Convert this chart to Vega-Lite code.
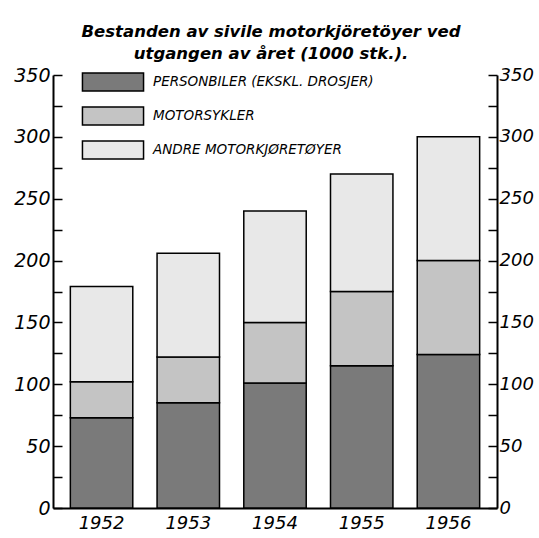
{
  "$schema": "https://vega.github.io/schema/vega-lite/v6.json",
  "width": 444,
  "height": 433,
  "autosize": "none",
  "padding": {"left": 53, "top": 75, "right": 42, "bottom": 30},
  "background": "white",
  "title": {
    "text": ["Bestanden av sivile motorkjöretöyer ved", "utgangen av året (1000 stk.)."],
    "font": "DejaVu Sans",
    "fontStyle": "italic",
    "fontWeight": "bold",
    "fontSize": 16.5,
    "lineHeight": 22,
    "color": "black",
    "anchor": "middle",
    "offset": 4,
    "dx": -4
  },
  "data": {
    "values": [
      {"year": "1952", "type": "PERSONBILER (EKSKL. DROSJER)", "ord": 1, "value": 73},
      {"year": "1952", "type": "MOTORSYKLER", "ord": 2, "value": 29},
      {"year": "1952", "type": "ANDRE MOTORKJØRETØYER", "ord": 3, "value": 77},
      {"year": "1953", "type": "PERSONBILER (EKSKL. DROSJER)", "ord": 1, "value": 85},
      {"year": "1953", "type": "MOTORSYKLER", "ord": 2, "value": 37},
      {"year": "1953", "type": "ANDRE MOTORKJØRETØYER", "ord": 3, "value": 84},
      {"year": "1954", "type": "PERSONBILER (EKSKL. DROSJER)", "ord": 1, "value": 101},
      {"year": "1954", "type": "MOTORSYKLER", "ord": 2, "value": 49},
      {"year": "1954", "type": "ANDRE MOTORKJØRETØYER", "ord": 3, "value": 90},
      {"year": "1955", "type": "PERSONBILER (EKSKL. DROSJER)", "ord": 1, "value": 115},
      {"year": "1955", "type": "MOTORSYKLER", "ord": 2, "value": 60},
      {"year": "1955", "type": "ANDRE MOTORKJØRETØYER", "ord": 3, "value": 95},
      {"year": "1956", "type": "PERSONBILER (EKSKL. DROSJER)", "ord": 1, "value": 124},
      {"year": "1956", "type": "MOTORSYKLER", "ord": 2, "value": 76},
      {"year": "1956", "type": "ANDRE MOTORKJØRETØYER", "ord": 3, "value": 100}
    ]
  },
  "encoding": {
    "x": {
      "field": "year",
      "type": "nominal",
      "scale": {"paddingInner": 0.28, "paddingOuter": 0.2},
      "axis": {
        "title": null,
        "labelAngle": 0,
        "ticks": false,
        "labelPadding": 6,
        "labelFont": "DejaVu Sans",
        "labelFontStyle": "italic",
        "labelFontSize": 18,
        "labelColor": "black",
        "domainColor": "black",
        "domainWidth": 2
      }
    },
    "y": {
      "field": "value",
      "type": "quantitative",
      "aggregate": "sum",
      "stack": "zero",
      "scale": {"domain": [0, 350], "nice": false}
    },
    "order": {"field": "ord", "type": "quantitative"}
  },
  "layer": [
    {
      "mark": {"type": "bar", "stroke": "black", "strokeWidth": 1.5},
      "encoding": {
        "y": {
          "field": "value",
          "type": "quantitative",
          "aggregate": "sum",
          "stack": "zero",
          "scale": {"domain": [0, 350], "nice": false},
          "axis": {
            "orient": "left",
            "title": null,
            "values": [0, 25, 50, 75, 100, 125, 150, 175, 200, 225, 250, 275, 300, 325, 350],
            "labelExpr": "datum.value % 50 === 0 ? datum.label : ''",
            "grid": false,
            "tickSize": -9,
            "tickColor": "black",
            "tickWidth": 1.5,
            "domainColor": "black",
            "domainWidth": 2,
            "labelPadding": 12,
            "labelFont": "DejaVu Sans",
            "labelFontStyle": "italic",
            "labelFontSize": 19,
            "labelColor": "black"
          }
        },
        "fill": {
          "field": "type",
          "type": "nominal",
          "sort": ["PERSONBILER (EKSKL. DROSJER)", "MOTORSYKLER", "ANDRE MOTORKJØRETØYER"],
          "scale": {
            "domain": ["PERSONBILER (EKSKL. DROSJER)", "MOTORSYKLER", "ANDRE MOTORKJØRETØYER"],
            "range": ["#7a7a7a", "#c4c4c4", "#e8e8e8"]
          },
          "legend": {
            "orient": "none",
            "legendX": 46,
            "legendY": -7,
            "title": null,
            "padding": 0,
            "symbolType": "M-2.35,-0.7L2.35,-0.7L2.35,0.7L-2.35,0.7Z",
            "symbolSize": 676,
            "symbolStrokeColor": "black",
            "symbolStrokeWidth": 1.5,
            "rowPadding": 7,
            "labelOffset": 26,
            "labelFont": "DejaVu Sans",
            "labelFontStyle": "italic",
            "labelFontSize": 13.5,
            "labelColor": "black",
            "labelLimit": 400
          }
        }
      }
    },
    {
      "mark": {"type": "bar", "opacity": 0},
      "encoding": {
        "y": {
          "field": "value",
          "type": "quantitative",
          "aggregate": "sum",
          "stack": "zero",
          "scale": {"domain": [0, 350], "nice": false},
          "axis": {
            "orient": "right",
            "title": null,
            "values": [0, 25, 50, 75, 100, 125, 150, 175, 200, 225, 250, 275, 300, 325, 350],
            "labelExpr": "datum.value % 50 === 0 ? datum.label : ''",
            "grid": false,
            "tickSize": -9,
            "tickColor": "black",
            "tickWidth": 1.5,
            "domainColor": "black",
            "domainWidth": 2,
            "labelPadding": 11,
            "labelFont": "DejaVu Sans",
            "labelFontStyle": "italic",
            "labelFontSize": 18,
            "labelColor": "black"
          }
        },
        "detail": {"field": "type"}
      }
    }
  ],
  "resolve": {"axis": {"y": "independent"}},
  "config": {"view": {"stroke": null}}
}
